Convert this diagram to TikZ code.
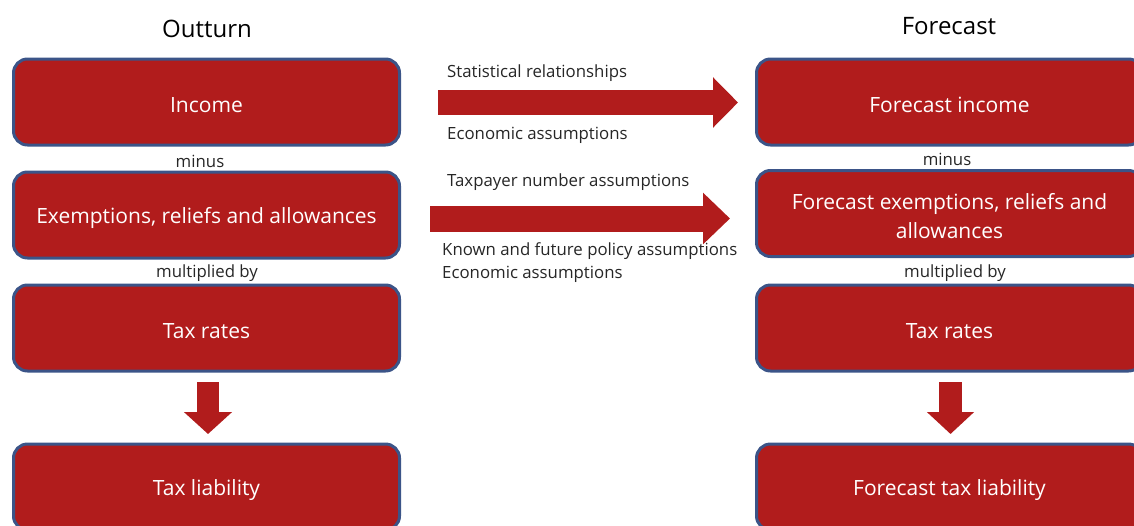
\documentclass[tikz,border=0pt]{standalone}
\usepackage{fontspec}
\setmainfont{Open Sans}
\usetikzlibrary{arrows.meta}
\definecolor{boxred}{RGB}{177,28,28}
\definecolor{boxblue}{RGB}{59,84,136}
\definecolor{txt}{RGB}{38,38,38}
\begin{document}
\begin{tikzpicture}[x=1pt,y=-1pt,
  box/.style={draw=boxblue, line width=3pt, fill=boxred, rounded corners=14pt,
    minimum width=386pt, minimum height=86pt, inner sep=0pt},
  boxtext/.style={text=white, align=center, inner sep=0pt, yshift=-3pt,
    font=\fontsize{21}{29}\selectfont},
  lbl/.style={text=txt, font=\fontsize{16.8}{23}\selectfont, inner sep=0pt},
  ttl/.style={text=black, font=\fontsize{24}{28}\selectfont, inner sep=0pt},
  blockarrow/.style={draw=boxred, line width=#1},
]
\useasboundingbox (0,0) rectangle (1134,525);
% titles
\node[ttl] (t1) at (207,29) {Outturn};
\node[ttl] (t2) at (949,26) {Forecast};
% left column
\node[box, label={[boxtext]center:Income}] (inc) at (206.5,102) {};
\node[box, label={[boxtext]center:Exemptions, reliefs and allowances}] (exm) at (206.5,215) {};
\node[box, label={[boxtext]center:Tax rates}] (rat) at (206.5,328) {};
\node[box, label={[boxtext]center:Tax liability}] (lia) at (206.5,487) {};
\node[lbl] (m1) at (200,161.5) {minus};
\node[lbl] (mb1) at (207,273.5) {multiplied by};
% right column
\node[box, label={[boxtext]center:Forecast income}] (finc) at (949.5,102) {};
\node[box, label={[boxtext]center:{Forecast exemptions, reliefs and\\allowances}}] (fexm) at (949.5,213.5) {};
\node[box, label={[boxtext]center:Tax rates}] (frat) at (949.5,328) {};
\node[box, label={[boxtext]center:Forecast tax liability}] (flia) at (949.5,487) {};
\node[lbl] (m2) at (947,159.5) {minus};
\node[lbl] (mb2) at (955,273.5) {multiplied by};
% middle labels
\node[lbl, anchor=west] (l1) at (447,73.5) {Statistical relationships};
\node[lbl, anchor=west] (l2) at (447,135.5) {Economic assumptions};
\node[lbl, anchor=west] (l3) at (447,182.5) {Taxpayer number assumptions};
\node[lbl, anchor=west, align=left] (l4) at (442,263) {Known and future policy assumptions\\Economic assumptions};
% block arrows
\coordinate (a1s) at (438,102.5);
\coordinate (a1e) at (738,102.5);
\coordinate (a2s) at (430,218.5);
\coordinate (a2e) at (730,218.5);
\draw[blockarrow=25pt, -{Triangle[length=25pt,width=49pt]}] (a1s) -- (a1e);
\draw[blockarrow=26pt, -{Triangle[length=27pt,width=50pt]}] (a2s) -- (a2e);
\coordinate (d1s) at (208,382);
\coordinate (d1e) at (208,434);
\coordinate (d2s) at (950.5,382);
\coordinate (d2e) at (950.5,434);
\draw[blockarrow=22pt, -{Triangle[length=22pt,width=47pt]}] (d1s) -- (d1e);
\draw[blockarrow=23pt, -{Triangle[length=22pt,width=46pt]}] (d2s) -- (d2e);
\end{tikzpicture}
\end{document}
